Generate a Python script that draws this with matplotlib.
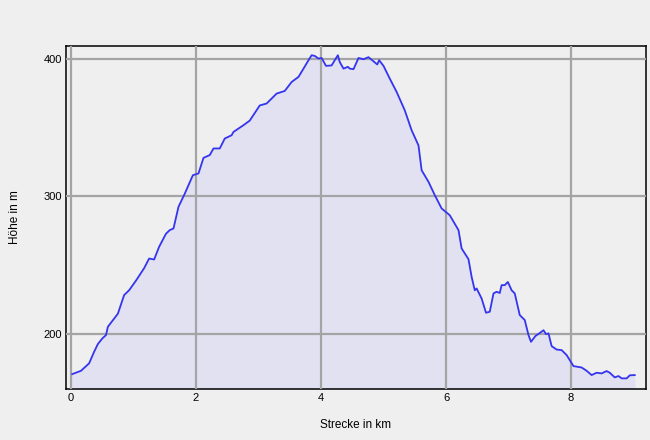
import numpy as np
import matplotlib
matplotlib.use("Agg")
import matplotlib.pyplot as plt

# Höhenprofil: Strecke (km) und Höhe (m)
strecke_km = [0.02, 0.16, 0.29, 0.37, 0.43, 0.50, 0.56, 0.59, 0.75, 0.85, 0.93, 1.04,
              1.17, 1.25, 1.33, 1.41, 1.52, 1.58, 1.64, 1.72, 1.82, 1.95, 2.04, 2.12,
              2.22, 2.28, 2.38, 2.46, 2.57, 2.60, 2.76, 2.86, 3.02, 3.13, 3.29, 3.42,
              3.53, 3.64, 3.72, 3.80, 3.85, 3.90, 3.96, 4.01, 4.08, 4.17, 4.22, 4.27,
              4.30, 4.36, 4.43, 4.46, 4.52, 4.60, 4.68, 4.76, 4.84, 4.90, 4.93, 5.00,
              5.10, 5.21, 5.34, 5.45, 5.56, 5.61, 5.72, 5.82, 5.93, 6.06, 6.20, 6.25,
              6.36, 6.41, 6.46, 6.49, 6.57, 6.64, 6.70, 6.76, 6.81, 6.86, 6.89, 6.94,
              6.99, 7.05, 7.10, 7.18, 7.26, 7.32, 7.36, 7.43, 7.50, 7.56, 7.60, 7.64,
              7.69, 7.77, 7.85, 7.93, 8.04, 8.17, 8.25, 8.33, 8.41, 8.49, 8.57, 8.62,
              8.70, 8.76, 8.81, 8.89, 8.94, 9.02]
hoehe_m = [171.2, 173.6, 179.0, 187.4, 193.0, 197.0, 199.5, 205.5, 215.0, 228.5, 232.0, 239.0,
           248.0, 255.0, 254.3, 263.5, 273.0, 275.6, 276.8, 292.5, 302.0, 315.4, 316.7, 328.0,
           330.0, 334.8, 334.8, 342.0, 344.4, 346.8, 351.7, 355.0, 366.0, 367.4, 374.6, 376.5,
           383.0, 386.7, 392.7, 398.8, 402.4, 401.9, 400.0, 400.4, 394.7, 395.0, 398.8, 402.4,
           397.5, 392.7, 394.0, 392.7, 392.3, 400.4, 399.5, 401.0, 398.0, 395.7, 398.8, 394.7,
           385.5, 375.8, 362.5, 348.0, 337.0, 319.0, 310.6, 301.0, 291.3, 286.4, 275.6, 262.3,
           254.5, 241.7, 232.0, 233.3, 226.0, 215.7, 216.4, 229.7, 230.9, 230.0, 235.7, 235.7,
           238.0, 232.0, 229.7, 214.0, 210.4, 199.5, 194.6, 198.8, 201.0, 203.0, 200.2, 200.7,
           191.5, 189.0, 188.6, 185.0, 177.0, 176.0, 173.6, 170.5, 172.2, 171.7, 173.4, 172.2,
           168.8, 169.8, 168.1, 168.1, 170.3, 170.5]

x_ticks = [0, 2, 4, 6, 8]
y_ticks = [200, 300, 400]

bg = "#efefef"
fig = plt.figure(figsize=(6.5, 4.4), dpi=100, facecolor=bg)
ax = fig.add_axes([66 / 650, 1 - 389 / 440, 580 / 650, 343 / 440])
ax.set_facecolor(bg)

# Fläche unter dem Profil und die Linie
ax.fill_between(strecke_km, hoehe_m, 0, color="#e1e1f1", zorder=1)
ax.plot(strecke_km, hoehe_m, color="#3535f0", lw=1.3, zorder=3)

ax.set_xlim(-0.08, 9.2)
ax.set_ylim(160.4, 409.1)
ax.set_xticks(x_ticks)
ax.set_yticks(y_ticks)
ax.grid(True, color="#a4a4a4", lw=1.6, zorder=2)
ax.set_axisbelow(False)
for line in ax.get_xgridlines() + ax.get_ygridlines():
    line.set_zorder(2)

ax.tick_params(length=0, pad=3, labelsize=8)
for lab in ax.get_xticklabels() + ax.get_yticklabels():
    lab.set_family("Liberation Sans")
for sp in ax.spines.values():
    sp.set_color("black")
    sp.set_linewidth(1.1)

ax.set_xlabel("Strecke in km", fontsize=8.5, family="Liberation Sans")
ax.set_ylabel("Höhe in m", fontsize=8.5, family="Liberation Sans")
ax.xaxis.set_label_coords(0.5, -0.105)
ax.yaxis.set_label_coords(-0.088, 0.5)
ax.xaxis.label.set_va("center")
ax.yaxis.label.set_va("center")

fig.savefig("out.png", dpi=100, facecolor=bg)
